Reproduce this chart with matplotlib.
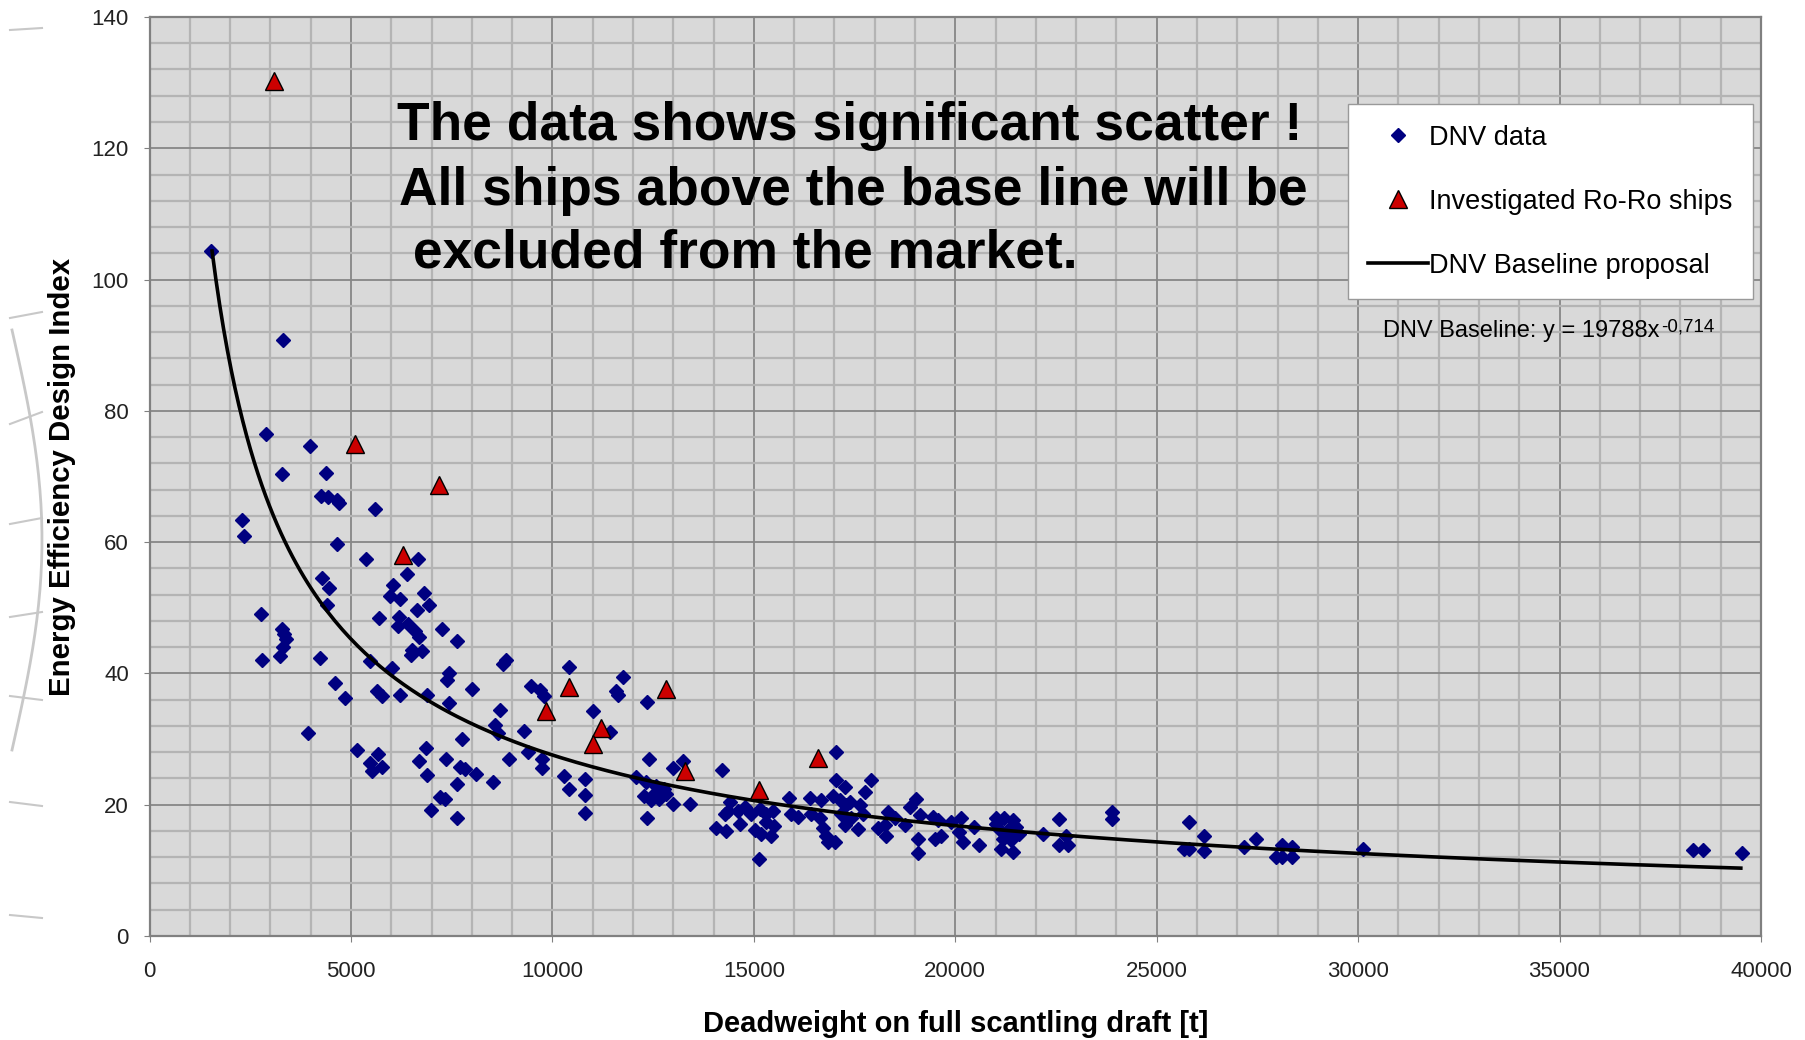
import numpy as np
import matplotlib.pyplot as plt
from matplotlib.lines import Line2D
from matplotlib.ticker import MultipleLocator

plt.rcParams['font.family'] = ['Liberation Sans', 'DejaVu Sans']

# DNV data (deadweight [t], EEDI)
dnv_dwt = [1514, 3317, 2881, 3983, 3287, 4380, 4264, 4430, 4662, 4703, 5589, 2285, 2343,
           4644, 5373, 6673, 6383, 4289, 4446, 6052, 6822, 5969, 6217, 6946, 4413, 6631,
           2774, 5696, 6201, 6176, 6424, 6590, 6698, 7252, 7625, 3287, 3345, 3395, 3312,
           3246, 2782, 4239, 6507, 6755, 6480, 8850, 8783, 5472, 6010, 4595, 4844, 5638,
           5762, 6217, 6896, 7443, 7377, 7997, 7443, 9464, 9695, 9778, 10400, 8701, 10996,
           11741, 11575, 11633, 12337, 11426, 8578, 8653, 9298, 7742, 3933, 9398, 8909,
           9737, 9729, 5150, 5680, 5465, 5531, 5771, 6872, 6690, 7369, 7717, 7824, 8098,
           6897, 7618, 8528, 7203, 7328, 6997, 7618, 10292, 10416, 10805, 10805, 10805,
           12400, 12988, 13236, 14205, 17029,
           12077, 12326, 12574, 12781, 12284, 12450, 12657, 12822, 12988, 12532, 13402, 12342,
           14396, 14355, 14272, 14604, 14770, 14936, 15141, 15307, 15472, 14065, 14314, 14645,
           15017, 15182, 15431, 15489, 15307, 15124, 15869, 15927, 16093, 16383, 16424, 16673,
           16631, 16714, 16797, 17004, 16838, 17029, 17253, 16963, 17129, 17377, 17294, 17170,
           17419, 17253, 17584, 17750, 17915, 17626, 17708, 18080, 18287, 18329, 18494, 18246,
           18742, 18867, 19032, 19074, 19074, 19447, 19489, 19115, 19561, 19644, 19892, 20141,
           20100, 20183, 20472, 20580, 21010, 21217, 21424, 21093, 21300, 21507, 21176, 21383,
           21134, 21424, 21010, 21590, 22170, 22567, 22567, 22790, 22750, 23892, 23892, 25813,
           26185, 25796, 25680, 26185, 27160, 27470, 27950, 28120, 28120, 28370, 28370, 30130,
           38310, 38550, 39530]
dnv_eedi = [104.4, 90.8, 76.5, 74.7, 70.4, 70.5, 67.0, 66.8, 66.4, 66.0, 65.0, 63.3, 60.9,
            59.7, 57.5, 57.5, 55.1, 54.6, 53.0, 53.5, 52.2, 51.8, 51.3, 50.4, 50.4, 49.6,
            49.0, 48.5, 48.6, 47.2, 47.5, 46.4, 45.6, 46.8, 44.9, 46.7, 46.0, 45.2, 44.0,
            42.6, 42.0, 42.4, 43.6, 43.4, 42.8, 42.1, 41.4, 41.9, 40.9, 38.6, 36.3, 37.3,
            36.5, 36.7, 36.7, 40.0, 39.0, 37.7, 35.5, 38.1, 37.5, 36.5, 41.0, 34.5, 34.3,
            39.5, 37.3, 36.7, 35.6, 31.0, 32.2, 30.9, 31.2, 30.0, 30.9, 28.1, 26.9,
            27.0, 25.6, 28.4, 27.8, 26.3, 25.2, 25.8, 28.7, 26.6, 27.0, 25.7, 25.4, 24.7,
            24.6, 23.2, 23.4, 21.1, 20.9, 19.2, 18.0, 24.3, 22.4, 23.9, 21.5, 18.8,
            26.9, 25.6, 26.7, 25.3, 28.0,
            24.2, 23.4, 22.9, 22.4, 21.4, 20.7, 20.9, 21.7, 20.1, 21.7, 20.1, 17.9,
            20.4, 19.1, 18.6, 19.1, 19.6, 18.6, 19.4, 18.6, 19.1, 16.4, 16.0, 17.1,
            16.2, 15.6, 15.3, 16.8, 17.3, 11.7, 21.0, 18.6, 18.1, 21.0, 18.6, 20.7,
            17.9, 16.5, 15.3, 14.3, 14.3, 23.8, 22.7, 21.4, 20.7, 20.4, 19.9, 18.6,
            17.9, 16.9, 16.3, 21.9, 23.7, 19.9, 18.6, 16.4, 15.3, 18.9, 17.9, 16.9,
            16.9, 19.6, 20.9, 14.8, 12.6, 18.1, 14.8, 18.4, 17.6, 15.3, 17.4, 17.9,
            15.8, 14.3, 16.6, 13.9, 17.9, 17.9, 17.6, 16.3, 16.1, 16.6, 14.8, 14.6,
            13.3, 12.8, 17.1, 15.6, 15.6, 17.8, 13.9, 13.9, 15.3, 18.9, 17.8, 17.4,
            15.3, 13.2, 13.3, 12.9, 13.6, 14.8, 12.1, 13.9, 12.1, 13.6, 12.1, 13.3,
            13.1, 13.1, 12.7]

# Investigated Ro-Ro ships
roro_dwt = [3093, 5110, 7187, 6283, 10400, 12828, 9828, 11194, 10996, 13300, 16590, 15124]
roro_eedi = [130.2, 74.9, 68.7, 58.0, 37.9, 37.6, 34.2, 31.7, 29.3, 25.2, 27.1, 22.2]

# DNV baseline y = 19788 * x^-0.714
base_coef = 19788
base_exp = -0.714
base_dwt_min, base_dwt_max = 1550, 39500

W, H = 1805, 1040
fig = plt.figure(figsize=(W / 100, H / 100), dpi=100)

# faint slide decoration strokes at the far left
for y0, y1 in [(30, 28), (318, 312), (424, 412), (524, 518), (617, 612), (696, 700), (802, 806), (915, 918)]:
    fig.add_artist(Line2D([10 / W, 42 / W], [1 - y0 / H, 1 - y1 / H], color='#C8C8C8', lw=1.5))
arc_t = np.linspace(0, 1, 30)
fig.add_artist(Line2D((12 + 30 * np.sin(arc_t * np.pi)) / W, 1 - (330 + 420 * arc_t) / H,
                      color='#C8C8C8', lw=2))

ax = fig.add_axes([0.0829, 0.1, 0.8927, 0.8837])
ax.set_facecolor('#D9D9D9')
ax.set_xlim(0, 40000)
ax.set_ylim(0, 140)
ax.xaxis.set_major_locator(MultipleLocator(5000))
ax.xaxis.set_minor_locator(MultipleLocator(1000))
ax.yaxis.set_major_locator(MultipleLocator(20))
ax.yaxis.set_minor_locator(MultipleLocator(4))
ax.grid(which='minor', color='#B4B4B4', lw=1.6)
ax.grid(which='major', color='#878787', lw=1.3)
ax.set_axisbelow(True)
ax.tick_params(which='minor', length=0)
ax.tick_params(which='major', length=4, color='#808080', labelsize=16, labelcolor='#222222')
ax.tick_params(axis='y', pad=11)
ax.tick_params(axis='x', pad=14)
for sp in ax.spines.values():
    sp.set_color('#808080')
    sp.set_linewidth(1.6)

xs = np.linspace(base_dwt_min, base_dwt_max, 400)
ys = base_coef * xs ** base_exp

ax.plot(dnv_dwt, dnv_eedi, 'D', color='#000080', ms=7.5, mec='#000080',
        label='DNV data', zorder=3, clip_on=False)
ax.plot(xs, ys, color='black', lw=2.6, label='DNV Baseline proposal', zorder=4)
ax.plot(roro_dwt, roro_eedi, '^', mfc='#CC0000', mec='black', mew=1, ms=13,
        label='Investigated Ro-Ro ships', zorder=5)

h, l = ax.get_legend_handles_labels()
order = [0, 2, 1]
leg = ax.legend([h[i] for i in order], [l[i] for i in order], loc='upper right',
                bbox_to_anchor=(0.995, 0.905), fontsize=19.5, frameon=True, fancybox=False,
                edgecolor='#999999', framealpha=1, handlelength=2.2, handletextpad=0.05,
                labelspacing=1.41, borderpad=0.75, borderaxespad=0)
leg.get_frame().set_linewidth(1.0)

ax.set_xlabel('Deadweight on full scantling draft [t]', fontsize=21, fontweight='bold')
ax.set_ylabel('Energy Efficiency Design Index', fontsize=21.2, fontweight='bold')
ax.xaxis.set_label_coords(0.5, -0.08)
ax.yaxis.set_label_coords(-0.046, 0.5)

msg = ['The data shows significant scatter !',
       'All ships above the base line will be',
       ' excluded from the market.']
for (px, py), line in zip([(397, 140), (399, 205), (398, 268)], msg):
    fig.text(px / W, 1 - py / H, line, fontsize=38.4, fontweight='bold', va='baseline')

fig.text(1383 / W, 1 - 337 / H, 'DNV Baseline: y = 19788x', fontsize=17, va='baseline')
fig.text(1661 / W, 1 - 331 / H, '-0,714', fontsize=13.5, va='baseline')

fig.savefig('out.png', dpi=100)
